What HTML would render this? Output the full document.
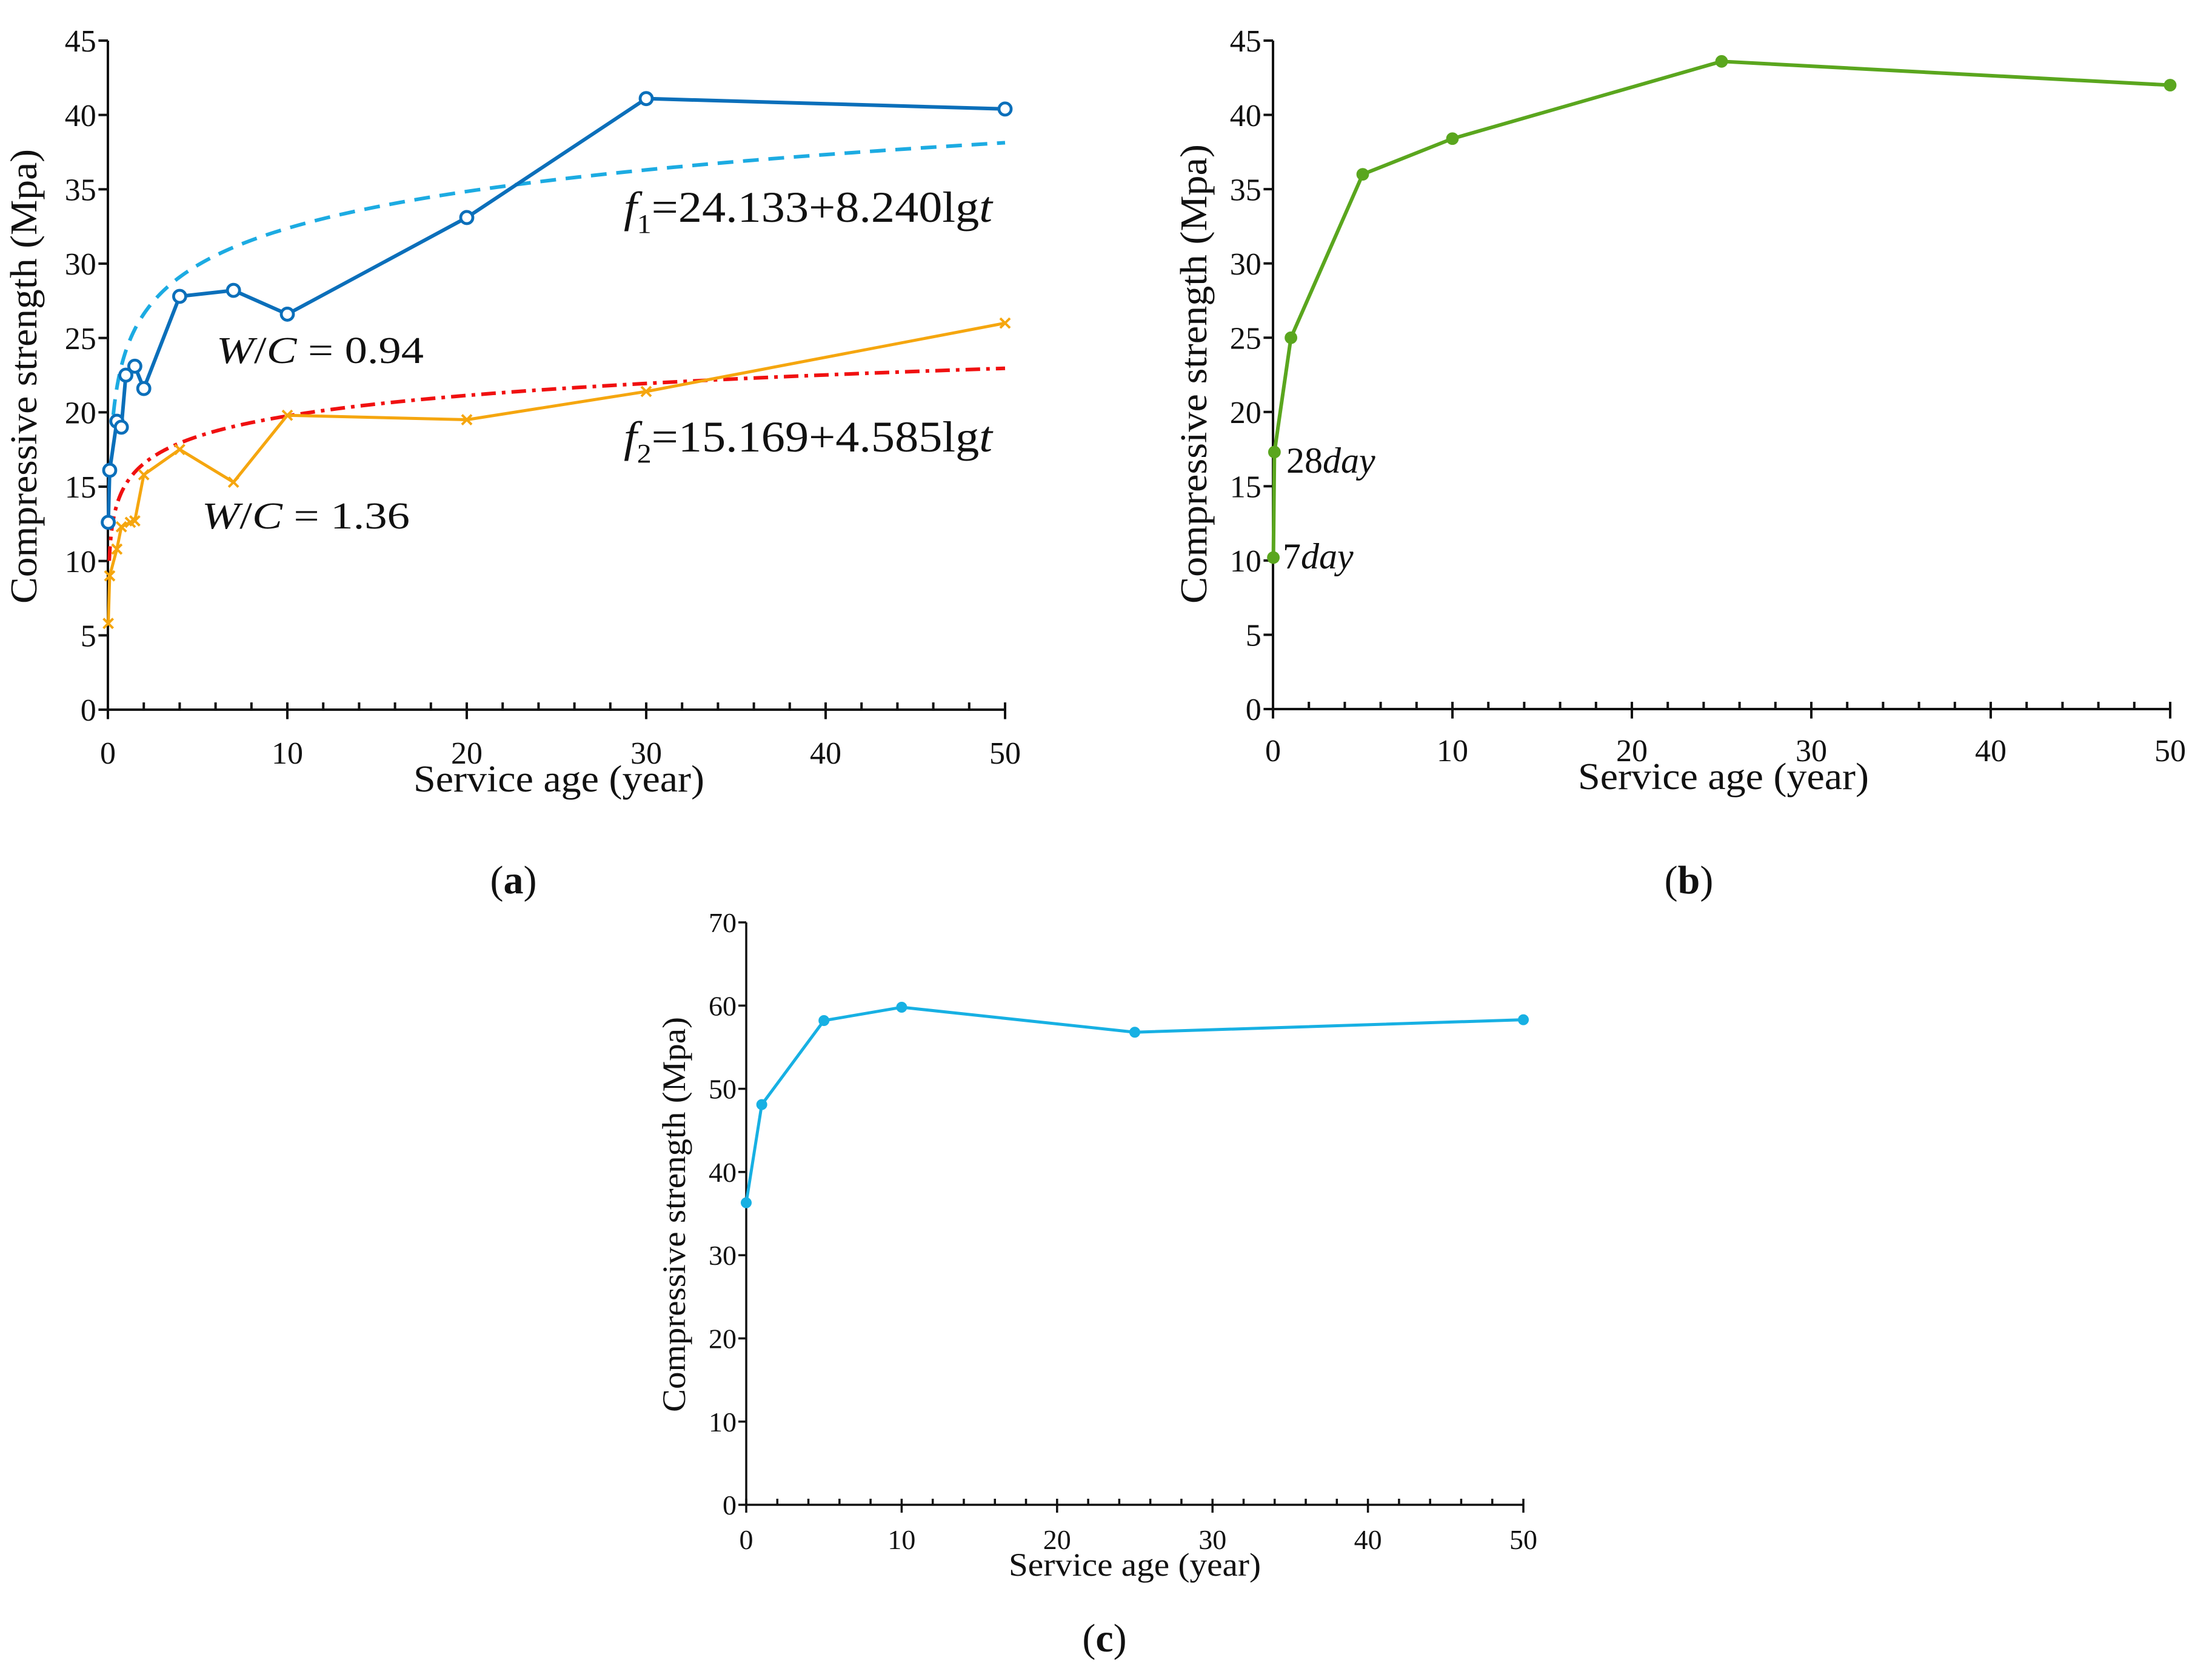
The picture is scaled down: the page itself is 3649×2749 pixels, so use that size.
<!DOCTYPE html>
<html><head><meta charset="utf-8"><style>
html,body{margin:0;padding:0;background:#fff}
svg{display:block}
text{font-family:"Liberation Serif",serif;fill:#111}
</style></head><body>
<svg id="fig" width="3649" height="2749" viewBox="0 0 3649 2749" xmlns="http://www.w3.org/2000/svg">
<text x="847" y="1474" font-size="66" text-anchor="middle">(<tspan font-weight="bold">a</tspan>)</text>
<text x="2786" y="1474" font-size="66" text-anchor="middle">(<tspan font-weight="bold">b</tspan>)</text>
<text x="1822" y="2725" font-size="66" text-anchor="middle">(<tspan font-weight="bold">c</tspan>)</text>
</svg>
<script>
// ---- data ----
const aBlueX = [0.02,0.1,0.5,0.75,1,1.5,2,4,7,10,20,30,50];
const aBlueY = [12.6,16.1,19.4,19.0,22.5,23.1,21.6,27.8,28.2,26.6,33.1,41.1,40.4];
const aOrangeX = [0.02,0.1,0.5,0.75,1.25,1.5,2,4,7,10,20,30,50];
const aOrangeY = [5.8,9.0,10.8,12.3,12.6,12.7,15.8,17.5,15.3,19.8,19.5,21.4,26.0];
const fit1Coef = [24.133,8.240];
const fit2Coef = [15.169,4.585];
const bX = [0.02,0.08,1,5,10,25,50];
const bY = [10.2,17.3,25.0,36.0,38.4,43.6,42.0];
const cX = [0,1,5,10,25,50];
const cY = [36.3,48.1,58.2,59.8,56.8,58.3];
const xTicks = [0,10,20,30,40,50];
const yTicksAB = [0,5,10,15,20,25,30,35,40,45];
const yTicksC = [0,10,20,30,40,50,60,70];

const NS="http://www.w3.org/2000/svg";
const svg=document.getElementById('fig');
function mk(tag,attrs,parent){const e=document.createElementNS(NS,tag);for(const k in attrs)e.setAttribute(k,attrs[k]);(parent||svg).appendChild(e);return e;}

function axes(p){
  const g=mk('g',{});
  
  
  const sx=v=>p.x0+(v-0)/(50)*(p.x1-p.x0);
  const sy=v=>p.y0-(v/p.ymax)*(p.y0-p.y1);
  const lw=p.axw;
  mk('line',{x1:p.x0,y1:p.y0,x2:p.x1,y2:p.y0,stroke:'#111','stroke-width':lw},g);
  mk('line',{x1:p.x0,y1:p.y0,x2:p.x0,y2:p.y1,stroke:'#111','stroke-width':lw},g);
  for(let v=0;v<=50;v+=2){mk('line',{x1:sx(v),y1:p.y0,x2:sx(v),y2:p.y0-p.mt,stroke:'#111','stroke-width':lw},g);}
  xTicks.forEach(v=>{
    mk('line',{x1:sx(v),y1:p.y0,x2:sx(v),y2:p.y0+p.mt*1.3,stroke:'#111','stroke-width':lw},g);
    const t=mk('text',{x:sx(v),y:p.tb,'font-size':p.fs,'text-anchor':'middle'},g);
    t.textContent=v;
    
    
  });
  p.yt.forEach(v=>{
    mk('line',{x1:p.x0,y1:sy(v),x2:p.x0-p.mt*1.3,y2:sy(v),stroke:'#111','stroke-width':lw},g);
    const t=mk('text',{x:p.x0-p.mt*1.6,y:sy(v)+p.fs*0.35,'font-size':p.fs,'text-anchor':'end'},g);
    t.textContent=v;
    
    
  });
  const xt=mk('text',{x:p.xtx,y:p.xty,'font-size':p.tfs,'text-anchor':'middle',textLength:p.xtl,lengthAdjust:'spacingAndGlyphs'},g);
  xt.textContent='Service age (year)';
  
  
  const yt=mk('text',{x:0,y:0,'font-size':p.tfs,'text-anchor':'middle',textLength:p.ytl,lengthAdjust:'spacingAndGlyphs',transform:`translate(${p.ytx},${p.yty}) rotate(-90)`},g);
  yt.textContent='Compressive strength (Mpa)';
  
  
  return {sx,sy};
}
function series(ax,xs,ys,color,w,marker,name,r){
  const pts=xs.map((x,i)=>ax.sx(x)+','+ax.sy(ys[i])).join(' ');
  const l=mk('polyline',{points:pts,fill:'none',stroke:color,'stroke-width':w,'stroke-linejoin':'round'});
  
  
  xs.forEach((x,i)=>{
    const cx=ax.sx(x),cy=ax.sy(ys[i]);
    if(marker==='x'){
      const m=mk('path',{d:`M${cx-r},${cy-r}L${cx+r},${cy+r}M${cx-r},${cy+r}L${cx+r},${cy-r}`,stroke:color,'stroke-width':w*0.8});
      
      
    }else{
      const m=mk('circle',{cx,cy,r,fill:marker==='filled'?color:'#fff',stroke:color,'stroke-width':w*0.8});
      
      
    }
  });
}
function fitCurve(ax,coef,t0,color,dash,name){
  const pts=[];
  for(let i=0;i<=300;i++){const t=t0*Math.pow(50/t0,i/300);pts.push(ax.sx(t)+','+ax.sy(coef[0]+coef[1]*Math.log10(t)));}
  const l=mk('polyline',{points:pts.join(' '),fill:'none',stroke:color,'stroke-width':6,'stroke-dasharray':dash});
  
  
}

// Panel a
const A=axes({id:'panel-a',x0:178,x1:1658,y0:1171,y1:67,ymax:45,yt:yTicksAB,axw:4,mt:12,fs:52,tfs:62,tb:1260,
  xtx:922,xty:1306,xtl:480,ytx:60,yty:621,ytl:750});
fitCurve(A,fit1Coef,0.3,'#1cabe2','26 16','fit-curve-f1');
fitCurve(A,fit2Coef,0.075,'#f01010','24 10 6 10','fit-curve-f2');
series(A,aBlueX,aBlueY,'#0b6fba',6,'open','wc-094',10);
series(A,aOrangeX,aOrangeY,'#f5a60f',5,'x',"wc-136",8);
[[1029,366,'f','1','=24.133+8.240lg','t','equation-f1'],[1029,745,'f','2','=15.169+4.585lg','t','equation-f2']].forEach(d=>{
  const t=mk('text',{x:d[0],y:d[1],'font-size':72,textLength:608,lengthAdjust:'spacingAndGlyphs'});
  t.innerHTML=`<tspan font-style="italic">${d[2]}</tspan><tspan font-size="44" dy="18">${d[3]}</tspan><tspan dy="-18">${d[4]}</tspan><tspan font-style="italic">${d[5]}</tspan>`;
  
  
});
[[357,599,'0.94','label-wc-094',342],[333,872,'1.36','label-wc-136',343]].forEach(d=>{
  const t=mk('text',{x:d[0],y:d[1],'font-size':62,textLength:d[4],lengthAdjust:'spacingAndGlyphs'});
  t.innerHTML=`<tspan font-style="italic">W</tspan>/<tspan font-style="italic">C</tspan> = ${d[2]}`;
  
  
});

// Panel b
const B=axes({id:'panel-b',x0:2100,x1:3580,y0:1170,y1:67,ymax:45,yt:yTicksAB,axw:4,mt:12,fs:52,tfs:62,tb:1256,
  xtx:2843,xty:1302,xtl:480,ytx:1990,yty:617,ytl:758});
series(B,bX,bY,'#5aa61e',6,'filled','strength-b',8);
[[2122,780,'28','label-28day'],[2116,938,'7','label-7day']].forEach(d=>{
  const t=mk('text',{x:d[0],y:d[1],'font-size':60});
  t.innerHTML=`${d[2]}<tspan font-style="italic">day</tspan>`;
  
  
});

// Panel c
const C=axes({id:'panel-c',x0:1231,x1:2513,y0:2483,y1:1522,ymax:70,yt:yTicksC,axw:3.5,mt:10,fs:46,tfs:54,tb:2556,
  xtx:1872,xty:2600,xtl:416,ytx:1130,yty:2004,ytl:652});
series(C,cX,cY,'#17b0e3',5,'filled','strength-c',7);
</script>
</body></html>
